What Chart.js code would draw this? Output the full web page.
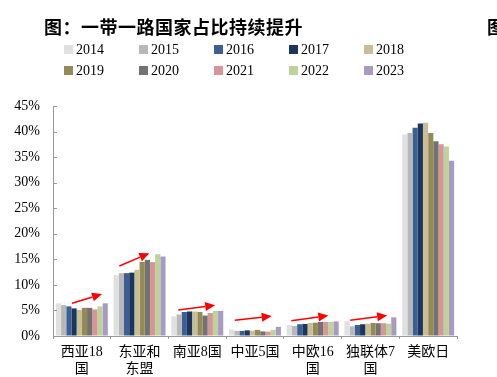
<!DOCTYPE html>
<html>
<head>
<meta charset="utf-8">
<script src="https://cdn.jsdelivr.net/npm/chart.js@4.4.1/dist/chart.umd.min.js"></script>
<style>
html,body{margin:0;padding:0;background:#fff;}
#wrap{position:relative;width:497px;height:377px;overflow:hidden;}
#chart{position:absolute;left:0;top:0;}
.title{position:absolute;top:13px;font:bold 18px "Liberation Serif","Noto Sans CJK SC";white-space:nowrap;color:#000;}
.item{position:absolute;font:14px "Liberation Serif","Noto Sans CJK SC";line-height:16px;white-space:nowrap;color:#000;}
.box{display:inline-block;width:9px;height:9px;margin-right:3px;vertical-align:0px;}
</style>
</head>
<body>
<div id="wrap">
  <canvas id="chart" width="497" height="377"></canvas>
  <div class="title" style="left:44px;letter-spacing:0.5px">图：一带一路国家占比持续提升</div>
  <div class="title" style="left:487px">图</div>
  <div id="legend"></div>
</div>
<script>
//categories (x axis)
var regions = [["西亚18", "国"], ["东亚和", "东盟"], "南亚8国", "中亚5国", ["中欧16", "国"], ["独联体7", "国"], "美欧日"];
var years = ["2014", "2015", "2016", "2017", "2018", "2019", "2020", "2021", "2022", "2023"];
var colors = ["#e0e0e0", "#b8b8b8", "#3b5f93", "#1c355e", "#c9bd93", "#958a55", "#727272", "#d69696", "#bdd39b", "#a99ac4"];

//share (%) per region, one list per year
var y2014 = [6.4, 11.9, 3.85, 1.3, 2.15, 2.9, 39.4];
var y2015 = [6.05, 12.3, 4.2, 1.0, 1.95, 1.9, 39.7];
var y2016 = [5.8, 12.3, 4.7, 1.0, 2.3, 2.15, 40.75];
var y2017 = [5.4, 12.4, 4.8, 1.1, 2.35, 2.3, 41.6];
var y2018 = [5.1, 12.95, 4.8, 1.05, 2.55, 2.4, 41.7];
var y2019 = [5.5, 14.5, 4.7, 1.2, 2.6, 2.55, 39.7];
var y2020 = [5.5, 14.9, 4.0, 0.9, 2.75, 2.5, 38.1];
var y2021 = [5.2, 14.45, 4.5, 0.85, 2.75, 2.5, 37.5];
var y2022 = [5.8, 16.0, 4.9, 1.2, 2.75, 2.4, 37.1];
var y2023 = [6.4, 15.55, 4.9, 1.8, 2.85, 3.65, 34.3];
var seriesValues = [y2014, y2015, y2016, y2017, y2018, y2019, y2020, y2021, y2022, y2023];

//y axis ticks
var yTicks = [0, 5, 10, 15, 20, 25, 30, 35, 40, 45];

//red trend arrows, in axis units: category position and value at start and end
var arrowFromX = [-0.17, 0.65, 1.67, 2.65, 3.63, 4.65];
var arrowToX = [0.35, 1.17, 2.31, 3.29, 4.27, 5.29];
var arrowFrom = [6.4, 13.7, 5.1, 3.1, 3.0, 3.1];
var arrowTo = [8.2, 16.2, 6.0, 3.9, 4.0, 4.0];

var fontFam = '"Liberation Serif", "Noto Sans CJK SC", serif';

//legend
var legend = document.getElementById("legend");
for(let i = 0; i < years.length; i++){
    let item = document.createElement("div");
    item.className = "item";
    item.style.left = (64 + 75 * (i % 5)) + "px";
    item.style.top = (42 + 21 * Math.floor(i / 5)) + "px";
    let box = document.createElement("span");
    box.className = "box";
    box.style.background = colors[i];
    item.appendChild(box);
    item.appendChild(document.createTextNode(years[i]));
    legend.appendChild(item);
}

var datasets = [];
for(let i = 0; i < years.length; i++){
    datasets.push({
        label: years[i],
        data: seriesValues[i],
        backgroundColor: colors[i],
        borderWidth: 0,
        categoryPercentage: 0.9,
        barPercentage: 1.0
    });
}

var decor = {
    id: "decor",
    afterDraw(chart){
        let ctx = chart.ctx;
        let xs = chart.scales.x;
        let ys = chart.scales.y;
        ctx.save();
        //small inside ticks on y axis
        ctx.strokeStyle = "#999";
        ctx.lineWidth = 1;
        for(let i = 0; i < yTicks.length; i++){
            let py = Math.round(ys.getPixelForValue(yTicks[i])) + 0.5;
            ctx.beginPath();
            ctx.moveTo(xs.left, py);
            ctx.lineTo(xs.left + 4, py);
            ctx.stroke();
        }
        //arrows
        ctx.strokeStyle = "#ff0000";
        ctx.fillStyle = "#ff0000";
        ctx.lineWidth = 1.5;
        for(let i = 0; i < arrowFrom.length; i++){
            let x0 = xs.getPixelForValue(arrowFromX[i]);
            let x1 = xs.getPixelForValue(arrowToX[i]);
            let y0 = ys.getPixelForValue(arrowFrom[i]);
            let y1 = ys.getPixelForValue(arrowTo[i]);
            let ang = Math.atan2(y1 - y0, x1 - x0);
            let hl = 10, hw = 4.5;
            let bx = x1 - hl * Math.cos(ang);
            let by = y1 - hl * Math.sin(ang);
            ctx.beginPath();
            ctx.moveTo(x0, y0);
            ctx.lineTo(bx, by);
            ctx.stroke();
            ctx.beginPath();
            ctx.moveTo(x1, y1);
            ctx.lineTo(bx + hw * Math.sin(ang), by - hw * Math.cos(ang));
            ctx.lineTo(bx - hw * Math.sin(ang), by + hw * Math.cos(ang));
            ctx.closePath();
            ctx.fill();
        }
        ctx.restore();
    }
};

new Chart(document.getElementById("chart"), {
    type: "bar",
    data: {
        labels: regions,
        datasets: datasets
    },
    options: {
        responsive: false,
        animation: false,
        layout: {padding: {top: 106, right: 40, left: 0, bottom: 0}},
        plugins: {
            legend: {display: false},
            tooltip: {enabled: false}
        },
        scales: {
            x: {
                grid: {display: true, drawOnChartArea: false, tickLength: 3, color: "#999", offset: true},
                border: {color: "#999"},
                ticks: {font: {family: fontFam, size: 14}, color: "#000", maxRotation: 0, padding: 5},
                afterFit(s){ s.height = 41; }
            },
            y: {
                min: 0,
                max: 45,
                afterBuildTicks(s){ s.ticks = yTicks.map(v => ({value: v})); },
                grid: {display: true, drawOnChartArea: false, drawTicks: false},
                border: {color: "#999"},
                ticks: {font: {family: fontFam, size: 14}, color: "#000", padding: 13, callback: v => v + "%"},
                afterFit(s){ s.width = 53; }
            }
        }
    },
    plugins: [decor]
});
</script>
</body>
</html>
